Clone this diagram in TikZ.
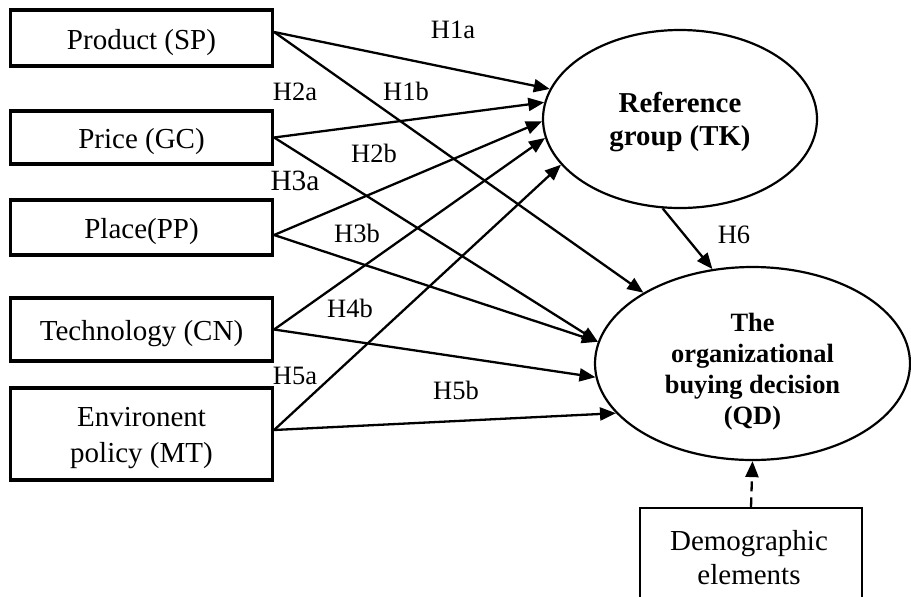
\documentclass[tikz,border=0pt]{standalone}
\usepackage{fontspec}
\setmainfont{Liberation Serif}
\usetikzlibrary{shapes.geometric,arrows.meta}
\begin{document}
\begin{tikzpicture}[x=0.5pt,y=-0.5pt,
  srcbox/.style={draw, line width=1.6pt, minimum width=131pt, inner sep=0pt, align=center, font=\fontsize{14.5}{18}\selectfont},
  oneline/.style={text height=11pt, text depth=0pt},
  txt/.style={inner sep=0pt, align=center},
  ellbox/.style={draw, ellipse, line width=1.1pt, inner sep=0pt},
  hlab/.style={anchor=base, inner sep=0pt, font=\fontsize{13.25}{15}\selectfont},
  arr/.style={line width=1.15pt, -{Triangle[length=8pt,width=6.5pt]}},
  dasharr/.style={line width=1.15pt, dash pattern=on 5pt off 3pt, -{Triangle[length=8pt,width=6.5pt]}}]
\useasboundingbox (0,0) rectangle (911,596);
% source boxes
\node[srcbox, oneline, minimum height=28pt] (prod) at (141.5,38) {Product (SP)};
\node[srcbox, oneline, minimum height=26.5pt] (price) at (141.5,137.5) {Price (GC)};
\node[srcbox, oneline, minimum height=27.5pt] (place) at (141.5,227.5) {Place(PP)};
\node[srcbox, oneline, minimum height=31.5pt] (tech) at (141.5,329.5) {Technology (CN)};
\node[srcbox, minimum height=46pt] (env) at (141.5,434) {};
\node[txt, font=\fontsize{14.5}{18}\selectfont] (envtxt) at (141.5,438) {Environent\\policy (MT)};
% ellipses
\node[ellbox, minimum width=137pt, minimum height=89pt] (ref) at (680,119) {};
\node[txt, font=\bfseries\fontsize{14.4}{16.5}\selectfont] (reftxt) at (680,122) {Reference\\group (TK)};
\node[ellbox, minimum width=157.5pt, minimum height=96.5pt] (qd) at (752.5,363.5) {};
\node[txt, font=\bfseries\fontsize{13.2}{15.5}\selectfont] (qdtxt) at (752.5,372) {The\\organizational\\buying decision\\(QD)};
% demographic
\node[draw, line width=0.7pt, minimum width=111pt, minimum height=48pt, inner sep=0pt] (demo) at (751,556) {};
\node[txt, font=\fontsize{14.5}{17}\selectfont] (demotxt) at (749,558) {Demographic\\elements};
% arrows to reference group
\draw[arr] ([yshift=3pt]prod.east) -- (ref.167.6);
\draw[arr] (price.east) -- (ref.173.4);
\draw[arr] ([yshift=-3.75pt]place.east) -- (ref.181);
\draw[arr] (tech.east) -- (ref.188.8);
\draw[arr] ([yshift=2pt]env.east) -- (ref.201.4);
% arrows to QD
\draw[arr] ([yshift=3pt]prod.east) -- (qd.147.6);
\draw[arr] (price.east) -- (qd.172.5);
\draw[arr] ([yshift=-3.75pt]place.east) -- (qd.172.5);
\draw[arr] (tech.east) -- (qd.185);
\draw[arr] ([yshift=2pt]env.east) -- (qd.200.6);
\draw[arr] (ref.259) -- (qd.113);
\draw[dasharr] (demo.north) -- (qd.south);
% labels
\node[hlab] (l1a) at (453,38) {H1a};
\node[hlab] (l2a) at (295,100) {H2a};
\node[hlab] (l1b) at (406,100) {H1b};
\node[hlab] (l2b) at (374,162) {H2b};
\node[hlab, font=\fontsize{14.7}{16}\selectfont] (l3a) at (295,190) {H3a};
\node[hlab] (l3b) at (357,242) {H3b};
\node[hlab] (l4b) at (350,317) {H4b};
\node[hlab] (l5a) at (295,384) {H5a};
\node[hlab] (l5b) at (456,399) {H5b};
\node[hlab] (l6) at (734,243) {H6};
\end{tikzpicture}
\end{document}
